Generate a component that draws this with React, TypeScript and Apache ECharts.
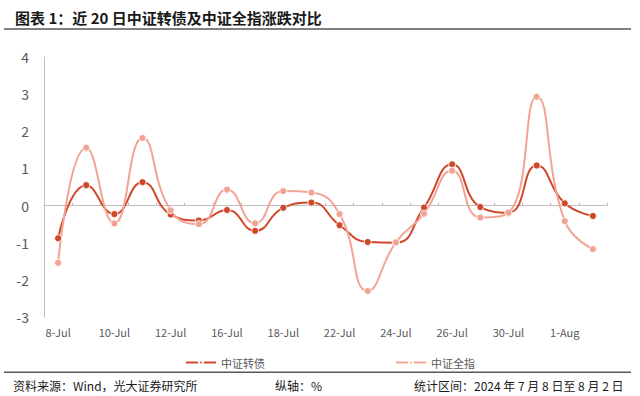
import React, { useEffect, useRef } from "react";
import * as echarts from "echarts";

const categories = [
  "8-Jul", "9-Jul", "10-Jul", "11-Jul", "12-Jul", "15-Jul", "16-Jul", "17-Jul", "18-Jul", "19-Jul",
  "22-Jul", "23-Jul", "24-Jul", "25-Jul", "26-Jul", "29-Jul", "30-Jul", "31-Jul", "1-Aug", "2-Aug",
];

const convertible = [
  -0.88, 0.55, -0.23, 0.63, -0.24, -0.4, -0.12, -0.68, -0.06, 0.08,
  -0.53, -0.98, -1.0, -0.05, 1.11, -0.04, -0.19, 1.08, 0.06, -0.28,
];

const allShare = [
  -1.54, 1.56, -0.48, 1.82, -0.13, -0.5, 0.43, -0.48, 0.39, 0.35,
  -0.23, -2.3, -0.99, -0.22, 0.94, -0.32, -0.19, 2.93, -0.42, -1.17,
];

const seriesNames = ["中证转债", "中证全指"];
const titleText = "图表 1：近 20 日中证转债及中证全指涨跌对比";
const sourceText = "资料来源：Wind，光大证券研究所";
const unitText = "纵轴：%";
const periodText = "统计区间：2024 年 7 月 8 日至 8 月 2 日";

const FONT = "'Noto Sans CJK SC', 'Noto Sans', sans-serif";
const DARK = "#D0482A";
const LIGHT = "#F2A494";

export default function App() {
  const ref = useRef<HTMLDivElement>(null);

  useEffect(() => {
    if (!ref.current) return;
    const chart = echarts.init(ref.current, undefined, { renderer: "svg" });
    const legendBase = {
      top: 352,
      itemWidth: 30,
      itemHeight: 5,
      itemGap: 6,
      textStyle: { fontSize: 11, color: "#595959", fontFamily: FONT },
    };
    chart.setOption({
      animation: false,
      backgroundColor: "#ffffff",
      textStyle: { fontFamily: FONT },
      title: {
        text: titleText,
        left: 10,
        top: 5,
        textStyle: { fontSize: 15, fontWeight: "bold", color: "#1a1a1a", fontFamily: FONT },
      },
      graphic: [
        { type: "rect", shape: { x: 4, y: 28, width: 627, height: 2 }, style: { fill: "#808080" } },
        { type: "rect", shape: { x: 4, y: 371.5, width: 627, height: 1.5 }, style: { fill: "#595959" } },
        {
          type: "text", x: 13, y: 385,
          style: { text: sourceText, fontSize: 12, fill: "#1a1a1a", fontFamily: FONT, textVerticalAlign: "middle" },
        },
        {
          type: "text", x: 275, y: 385,
          style: { text: unitText, fontSize: 12, fill: "#1a1a1a", fontFamily: FONT, textVerticalAlign: "middle" },
        },
        {
          type: "text", x: 414, y: 385,
          style: { text: periodText, fontSize: 12, fill: "#1a1a1a", fontFamily: FONT, textVerticalAlign: "middle" },
        },
      ],
      legend: [
        { ...legendBase, data: [seriesNames[0]], left: 180 },
        { ...legendBase, data: [seriesNames[1]], left: 390 },
      ],
      grid: { left: 44, right: 33, top: 57, height: 260 },
      xAxis: [
        {
          type: "category",
          data: categories,
          position: "bottom",
          boundaryGap: true,
          axisLine: { show: false, onZero: false },
          axisTick: { show: false },
          axisLabel: { interval: 1, fontSize: 11, color: "#595959", margin: 9, fontFamily: FONT },
          splitLine: { show: false },
        },
        {
          type: "category",
          data: categories,
          position: "bottom",
          boundaryGap: true,
          axisLine: { show: true, onZero: true, lineStyle: { color: "#BFBFBF", width: 1 } },
          axisTick: { show: true, inside: true, length: 3, interval: 0, lineStyle: { color: "#BFBFBF" } },
          axisLabel: { show: false },
          splitLine: { show: false },
        },
      ],
      yAxis: {
        type: "value",
        min: -3,
        max: 4,
        interval: 1,
        axisLine: { show: true, lineStyle: { color: "#BFBFBF", width: 1 } },
        axisTick: { show: false },
        axisLabel: { fontSize: 14, color: "#595959", margin: 15, fontFamily: FONT },
        splitLine: { show: false },
      },
      series: [
        {
          name: seriesNames[0],
          type: "line",
          xAxisIndex: 0,
          data: convertible,
          smooth: 0.5,
          symbol: "circle",
          symbolSize: 7,
          lineStyle: { color: DARK, width: 2 },
          itemStyle: { color: DARK, borderColor: "#ffffff", borderWidth: 0.8 },
        },
        {
          name: seriesNames[1],
          type: "line",
          xAxisIndex: 0,
          data: allShare,
          smooth: 0.5,
          symbol: "circle",
          symbolSize: 7,
          lineStyle: { color: LIGHT, width: 2 },
          itemStyle: { color: LIGHT, borderColor: "#ffffff", borderWidth: 0.8 },
        },
      ],
    });
    return () => chart.dispose();
  }, []);

  return (
    <div
      ref={ref}
      style={{ position: "fixed", left: 0, top: 0, width: 640, height: 396, background: "#fff" }}
    />
  );
}
